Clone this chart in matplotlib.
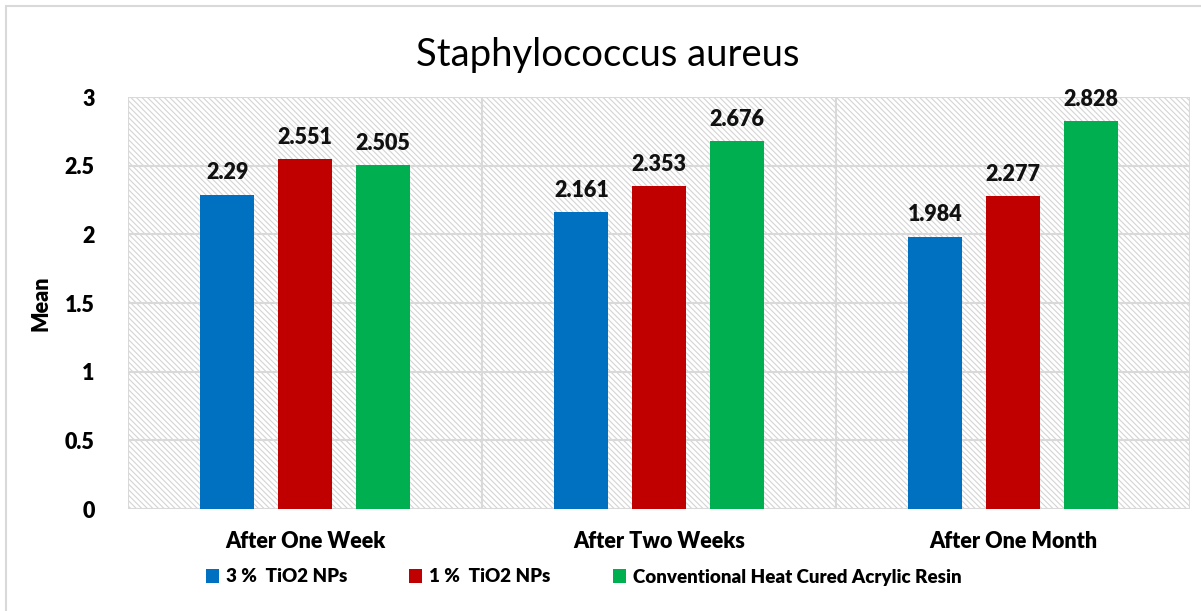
import numpy as np
import matplotlib
matplotlib.use("Agg")
import matplotlib.pyplot as plt
from matplotlib.patches import Rectangle

plt.rcParams['font.family'] = ['Lato', 'DejaVu Sans']
plt.rcParams['hatch.color'] = '#d4d4d4'
plt.rcParams['hatch.linewidth'] = 0.8

categorias = ["After One Week", "After Two Weeks", "After One Month"]
series = ["3 %  TiO2 NPs", "1 %  TiO2 NPs", "Conventional Heat Cured Acrylic Resin"]
valores_3 = [2.29, 2.161, 1.984]
valores_1 = [2.551, 2.353, 2.277]
valores_conv = [2.505, 2.676, 2.828]
etiquetas_3 = ["2.29", "2.161", "1.984"]
etiquetas_1 = ["2.551", "2.353", "2.277"]
etiquetas_conv = ["2.505", "2.676", "2.828"]
colores = ["#0070c0", "#c00000", "#00b050"]
yticks = [0, 0.5, 1, 1.5, 2, 2.5, 3]
ytick_labels = ["0", "0.5", "1", "1.5", "2", "2.5", "3"]

fig = plt.figure(figsize=(12.01, 6.11), dpi=100)
ax = fig.add_axes([128 / 1201, 1 - 509 / 611, 1062 / 1201, 412 / 611])

# fondo rayado del area de trazado
ax.patch.set_facecolor('white')
ax.patch.set_hatch('\\' * 6)
ax.patch.set_edgecolor('#d4d4d4')

x = np.arange(len(categorias))
ancho = 0.1525
paso = 0.219
datos = [valores_3, valores_1, valores_conv]
etiquetas = [etiquetas_3, etiquetas_1, etiquetas_conv]
for i, (vals, labs) in enumerate(zip(datos, etiquetas)):
    barras = ax.bar(x + (i - 1) * paso, vals, ancho, color=colores[i], label=series[i], zorder=3)
    ax.bar_label(barras, labels=labs, padding=8, fontsize=15.5, fontweight='heavy', color='#111111')

ax.set_xlim(-0.5, 2.5)
ax.set_ylim(0, 3)
ax.set_yticks(yticks)
ax.set_yticklabels(ytick_labels, fontsize=15.5, fontweight='heavy')
ax.set_xticks(x)
ax.set_xticklabels(categorias, fontsize=15.5, fontweight='heavy')
ax.tick_params(axis='both', length=0)
ax.tick_params(axis='y', pad=24)
ax.tick_params(axis='x', pad=16)

for y in yticks:
    ax.axhline(y, color='#d9d9d9', lw=1.5, zorder=1)
for xv in [-0.5, 0.5, 1.5, 2.5]:
    ax.axvline(xv, color='#d9d9d9', lw=1.5, zorder=1)
for s in ax.spines.values():
    s.set_visible(False)

ax.set_ylabel("Mean", fontsize=15.5, fontweight='heavy')
ax.yaxis.set_label_coords(-0.072, 0.5)

fig.text(0.506, 0.91, "Staphylococcus aureus", ha='center', va='center', fontsize=27.5)

fig.legend(loc='center', bbox_to_anchor=(0.486, 1 - 577 / 611), ncol=3, frameon=False,
           prop={'size': 13.5, 'weight': 'heavy'}, handlelength=0.7, handleheight=0.7,
           handletextpad=0.38, columnspacing=3.3)

# borde exterior del grafico
fig.patches.append(Rectangle((6 / 1201, -0.02), 1.1, 1 - 6 / 611 + 0.02, transform=fig.transFigure,
                             fill=False, edgecolor='#d9d9d9', lw=1.5))

fig.savefig("out.png", dpi=100)
